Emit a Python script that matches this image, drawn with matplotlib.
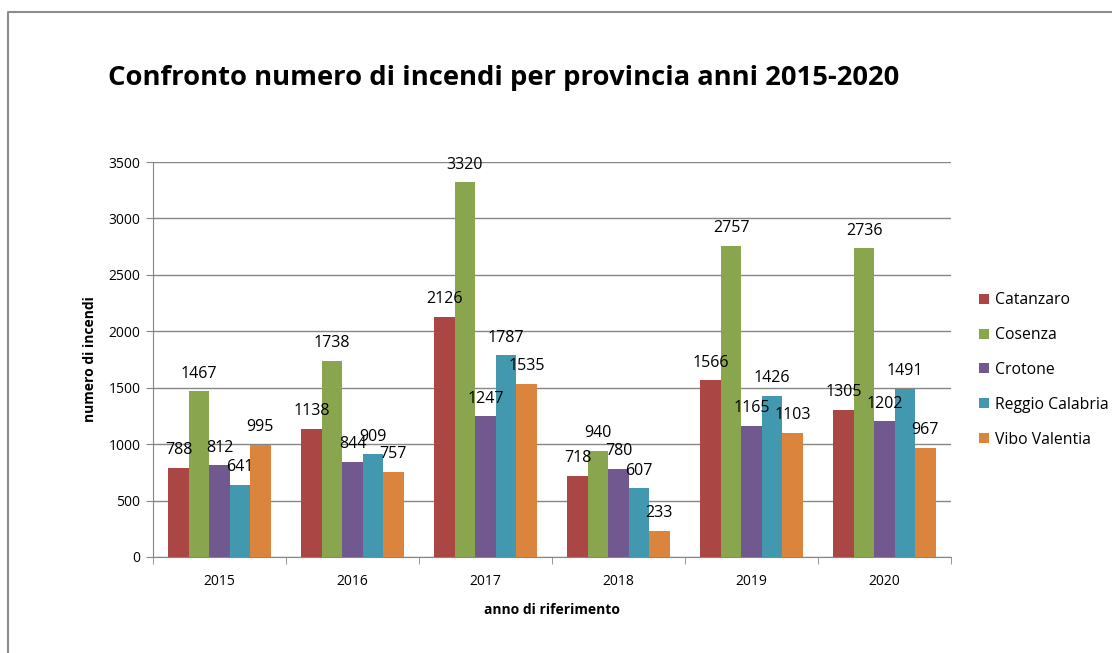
import numpy as np
import matplotlib
matplotlib.use("Agg")
import matplotlib.pyplot as plt
from matplotlib.lines import Line2D

# dati
anni = ["2015", "2016", "2017", "2018", "2019", "2020"]
province = ["Catanzaro", "Cosenza", "Crotone", "Reggio Calabria", "Vibo Valentia"]
catanzaro = [788, 1138, 2126, 718, 1566, 1305]
cosenza = [1467, 1738, 3320, 940, 2757, 2736]
crotone = [812, 844, 1247, 780, 1165, 1202]
reggio = [641, 909, 1787, 607, 1426, 1491]
vibo = [995, 757, 1535, 233, 1103, 967]

serie = [catanzaro, cosenza, crotone, reggio, vibo]
colori = ["#AA4643", "#89A54E", "#71588F", "#4198AF", "#DB843D"]

plt.rcParams["font.family"] = ["Open Sans", "DejaVu Sans"]

W, H = 1112, 653
fig = plt.figure(figsize=(W / 100, H / 100), dpi=100)
fig.patch.set_facecolor("white")

# cornice del grafico (tagliata a destra e in basso)
fig.add_artist(Line2D([8 / W, 8 / W, 1], [0, 1 - 12 / H, 1 - 12 / H],
                      transform=fig.transFigure, color="#8c8c8c", lw=1.5))

ax = fig.add_axes([153 / W, 1 - 557 / H, (951 - 153) / W, (557 - 162) / H])

x = np.arange(len(anni))
ancho = 1 / 6.5
for i, (vals, col, nome) in enumerate(zip(serie, colori, province)):
    pos = x + (i - 2) * ancho
    ax.bar(pos, vals, width=ancho, color=col, label=nome, zorder=3)
    for p, v in zip(pos, vals):
        ax.annotate(str(v), (p, v), xytext=(0, 7), textcoords="offset points",
                    ha="center", va="bottom", fontsize=11.5, color="black",
                    zorder=10)

ax.set_xlim(-0.5, len(anni) - 0.5)
ax.set_ylim(0, 3500)
ax.set_yticks(np.arange(0, 3501, 500))
ax.set_xticks(x)
ax.set_xticklabels(anni, fontsize=10)
ax.set_xticks(np.arange(-0.5, len(anni), 1), minor=True)
ax.tick_params(axis="x", which="major", length=0, pad=12)
ax.tick_params(axis="x", which="minor", length=5, color="#868686")
ax.tick_params(axis="y", length=5, color="#868686", labelsize=10, pad=4)
ax.grid(axis="y", color="#868686", lw=1, zorder=0)
for s in ["top", "right"]:
    ax.spines[s].set_visible(False)
for s in ["left", "bottom"]:
    ax.spines[s].set_color("#868686")

ax.set_ylabel("numero di incendi", fontsize=10, fontweight="bold", labelpad=8)
ax.set_xlabel("anno di riferimento", fontsize=10, fontweight="bold", labelpad=10)

fig.text(108 / W, 1 - 78 / H, "Confronto numero di incendi per provincia anni 2015-2020",
         fontsize=19.7, fontweight="bold", ha="left", va="center")

ax.legend(loc="upper left", bbox_to_anchor=(973 / W, 1 - 286 / H),
          bbox_transform=fig.transFigure, frameon=False, fontsize=11.3,
          handlelength=0.6, handleheight=0.6, handletextpad=0.4, labelspacing=1.2,
          borderaxespad=0)

fig.savefig("out.png", dpi=100)
